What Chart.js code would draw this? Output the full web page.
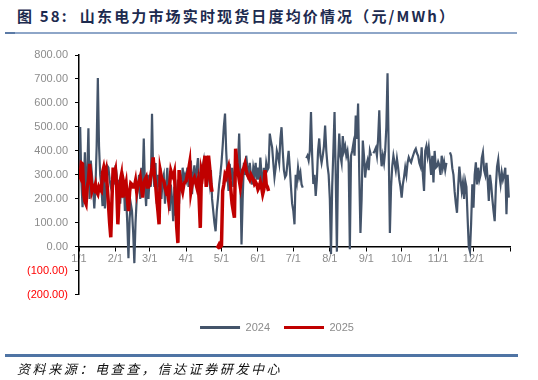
<!DOCTYPE html>
<html>
<head>
<meta charset="utf-8">
<script src="https://cdn.jsdelivr.net/npm/chart.js@4.4.1/dist/chart.umd.min.js"></script>
<style>
  html, body { margin: 0; padding: 0; background: #fff; }
  #wrap { position: relative; width: 538px; height: 380px; overflow: hidden; background: #fff; }
  #title { position: absolute; left: 17px; top: 5px; font-family: "Noto Sans CJK SC", "Liberation Sans", sans-serif; font-weight: bold; font-size: 15px; letter-spacing: 2.15px; color: #1d2b4f; white-space: nowrap; }
  #topline { position: absolute; left: 5px; top: 32px; width: 512px; height: 2px; background: #8ea6c8; }
  #topline2 { position: absolute; left: 5px; top: 32px; width: 10px; height: 2px; background: #5b7aa6; }
  #botline { position: absolute; left: 5px; top: 354px; width: 513px; height: 2.5px; background: #4f74a4; }
  #source { position: absolute; left: 17px; top: 359px; font-family: "Noto Sans CJK SC", sans-serif; font-style: italic; font-size: 13px; letter-spacing: 2.6px; color: #111; white-space: nowrap; }
  canvas { position: absolute; left: 0; top: 0; }
</style>
</head>
<body>
<div id="wrap">
  <div id="title">图 58:&nbsp; 山东电力市场实时现货日度均价情况（元/MWh）</div>
  <div id="topline"></div><div id="topline2"></div>
  <canvas id="c" width="538" height="380"></canvas>
  <div id="botline"></div>
  <div id="source">资料来源：电查查，信达证券研发中心</div>
</div>
<script>
// Month tick labels and their day-of-year positions
const monthLabels = ['1/1','2/1','3/1','4/1','5/1','6/1','7/1','8/1','9/1','10/1','11/1','12/1'];
const monthStartDays = [0, 31, 60, 91, 121, 152, 182, 213, 244, 274, 305, 335];
const seriesNames = ['2024', '2025'];

// 2024 daily average real-time spot price (元/MWh), one value per day
const values2024 = [
  // Jan
  330, 500, 280, 165, 250, 394, 190, 300, 494, 200, 360, 300, 240, 160, 250, 420, 704, 420, 300, 250, 170, 300, 160, 230, 338, 330, 280, 250, 230, 300, 260,
  // Feb
  340, 300, 220, 280, 180, 260, 230, 270, 150, 210, 100, -47, 120, 180, 150, 60, -68, 100, 200, 250, 300, 200, 330, 260, 452, 250, 170, 300, 200,
  // Mar
  300, 250, 555, 300, 250, 350, 180, 300, 250, 330, 200, 280, 300, 180, 250, 330, 220, 150, 260, 200, 107, 250, 130, 220, 280, 180, 300, 250, 330, 280, 300,
  // Apr
  280, 330, 250, 300, 360, 220, 300, 340, 260, 320, 370, 280, 300, 250, 330, 360, 300, 280, 340, 300, 260, 320, 200, 150, 100, 65, 150, 200, 260, 300,
  // May
  350, 420, 500, 556, 400, 300, 233, 346, 280, 330, 250, 300, 380, 300, 350, 472, 300, 10, 200, 350, 300, 380, 330, 280, 350, 300, 260, 330, 300, 350, 280,
  // Jun
  330, 280, 372, 300, 250, 330, 280, 350, 320, 330, 472, 440, 415, 350, 290, 330, 400, 380, 350, 450, 499, 400, 320, 290, 300, 350, 400, 330, 250, 180,
  // Jul
  150, 94, 300, 270, 330, 290, 310, 260, 247, null, null, 370, 380, 360, 400, 562, 380, 262, 300, 212, 280, 400, 452, 380, 350, 380, 420, 506, 400, 340, 300,
  // Aug
  200, -30, 250, 400, 562, 300, -20, 350, 472, 380, 350, 462, 400, 420, 380, 400, 350, -10, 380, 400, 430, 380, 548, 450, 598, 300, 58, 200, 443, 380, 289,
  // Sep
  340, 360, 320, 400, 380, null, 390, 400, 412, 380, 450, 569, 400, 336, 380, 350, 400, 500, 724, 400, 58, 250, 336, 380, 350, 320, 367, 330, 280, 250,
  // Oct
  205, 260, 291, 330, 300, 350, 373, 360, 352, 370, 385, 400, 409, 390, 380, 350, 335, 415, 300, 233, 400, 420, 380, 415, 360, 300, 380, 268, 400, 330, 335,
  // Nov
  355, 340, 300, 380, 330, 355, 320, 350, null, null, 394, 380, 328, 300, 230, 180, 142, 250, 335, 280, 233, 268, 200, 275, 250, 120, 0, -19, 100, 261,
  // Dec
  163, 300, 352, 260, 330, 280, 300, 370, 394, 320, 300, 350, 280, 191, 300, 261, 200, 150, 107, 250, 335, 364, 300, 261, 310, 280, 300, 330, 136, 300, 205
];

// 2025 daily average real-time spot price (元/MWh), Jan 1 to early June
const values2025 = [
  // Jan
  300, 290, 350, 346, 220, 190, 178, 250, 275, 346, 300, 233, 250, 240, 260, 230, 220, 250, 240, 233, 310, 331, 300, 320, 250, 178, 100, 40, 200, 331, 300,
  // Feb
  320, 250, 94, 200, 275, 300, 205, 265, 240, 265, 200, 149, 230, 265, 260, 250, 250, 275, 230, 260, 270, 290, 250, 205, 260, 280, 290, 250,
  // Mar
  250, 262, 300, 330, 373, 300, 262, 200, 150, 94, 317, 290, 280, 275, 250, 230, 240, 200, 260, 317, 300, 290, 310, 200, 80, 16, 320, 280, 250, 230, 260,
  // Apr
  270, 275, 300, 320, 350, 230, 260, 280, 290, 270, 250, 275, 200, 79, 320, 300, 340, 380, 250, 300, 380, 330, 262, 230, null, null, null, 5, 0, 10,
  // May
  0, 5, 233, 260, 300, 290, 320, 336, 300, 233, 180, 150, 121, 409, 350, 320, 280, 250, 290, 320, 330, 347, 320, 300, 290, 280, 300, 290, 280, 262, 270,
  // Jun
  260, 240, 250, 270, 250, 220, 240, 320, 260, 250, 233
];

const toPoints = arr => arr.map((v, i) => ({ x: i, y: v }));

Chart.defaults.font.family = '"Liberation Sans", Arial, sans-serif';
Chart.defaults.font.size = 11;

new Chart(document.getElementById('c'), {
  type: 'line',
  data: {
    datasets: [
      {
        label: seriesNames[0],
        data: toPoints(values2024),
        borderColor: '#44546a',
        backgroundColor: '#44546a',
        borderWidth: 2.2,
        pointRadius: 0,
        tension: 0,
        spanGaps: false,
        order: 2
      },
      {
        label: seriesNames[1],
        data: toPoints(values2025),
        borderColor: '#c00000',
        backgroundColor: '#c00000',
        borderWidth: 3.5,
        pointRadius: 0,
        tension: 0,
        spanGaps: false,
        order: 1
      }
    ]
  },
  options: {
    responsive: false,
    animation: false,
    devicePixelRatio: 1,
    layout: { padding: { left: 16, right: 0, top: 55, bottom: 37 } },
    plugins: {
      tooltip: { enabled: false },
      legend: {
        display: true,
        position: 'bottom',
        align: 'center',
        title: { display: true, text: '', padding: 0, font: { size: 11, lineHeight: 1.2 } },
        labels: {
          boxWidth: 40,
          boxHeight: 3,
          padding: 14,
          color: '#8c8c8c',
          font: { size: 11 },
          sort: (a, b) => a.datasetIndex - b.datasetIndex,
          generateLabels: (chart) => Chart.defaults.plugins.legend.labels.generateLabels(chart).map(l => Object.assign(l, { lineWidth: 0 }))
        }
      }
    },
    scales: {
      x: {
        type: 'linear',
        position: { y: 0 },
        min: 0,
        max: 366,
        afterBuildTicks: (scale) => {
          scale.ticks = monthStartDays.concat([366]).map(v => ({ value: v }));
        },
        ticks: {
          autoSkip: false,
          maxRotation: 0,
          color: '#8c8c8c',
          padding: 2,
          font: { size: 11 },
          callback: (value) => {
            const i = monthStartDays.indexOf(value);
            return i >= 0 ? monthLabels[i] : '';
          }
        },
        grid: { display: true, drawOnChartArea: false, drawTicks: true, tickLength: 4, color: '#000', lineWidth: 1 },
        border: { display: true, color: '#000', width: 1.5 }
      },
      y: {
        type: 'linear',
        position: 'left',
        min: -200,
        max: 800,
        afterFit: (scale) => { scale.width = 63; },
        ticks: {
          stepSize: 100,
          padding: 7,
          font: { size: 11 },
          color: (ctx) => (ctx.tick && ctx.tick.value < 0 ? '#ff0000' : '#8c8c8c'),
          callback: (v) => v < 0 ? '(' + (-v).toFixed(2) + ')' : v.toFixed(2)
        },
        grid: { display: true, drawOnChartArea: false, drawTicks: true, tickLength: 4, color: '#000', lineWidth: 1 },
        border: { display: true, color: '#000', width: 1.5 }
      },
      yr: {
        type: 'linear',
        position: 'right',
        display: true,
        afterFit: (scale) => { scale.width = 28; },
        ticks: { display: false },
        grid: { display: false },
        border: { display: false }
      }
    }
  }
});
</script>
</body>
</html>
